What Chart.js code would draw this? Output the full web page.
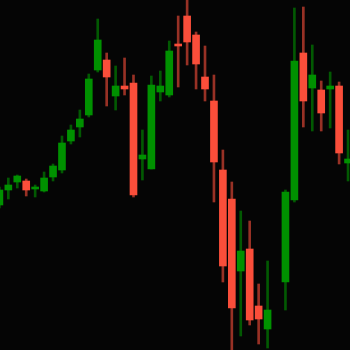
<!DOCTYPE html>
<html>
<head>
<meta charset="utf-8">
<script src="https://cdn.jsdelivr.net/npm/chart.js@4/dist/chart.umd.min.js"></script>
<style>
  html, body { margin: 0; padding: 0; background: #050505; }
  #wrap { width: 350px; height: 350px; position: relative; }
  canvas { display: block; }
</style>
</head>
<body>
<div id="wrap"><canvas id="c" width="350" height="350"></canvas></div>
<script>
// Candle data (index 31 is an empty slot with no candle)
const opens  = [145,160,168,169,161,159,173,180,209,223,235,280,290,254,264,267,191,181,258,255,306,334,315,273,249,180,151, 79,101, 44, 21,null, 68,150,297,262,260,261,264,187];
const highs  = [163,172,175,171,165,178,186,214,225,240,276,331,297,284,292,275,220,274,279,309,334,353,318,304,275,200,168,139,129, 66, 89,null,160,342,343,305,269,278,268,220];
const lows   = [142,151,162,154,153,158,169,177,206,213,233,278,244,240,255,153,170,181,249,253,263,285,261,249,148, 68, -5, 14, 25,  6,  2,null, 40,148,223,219,219,222,186,169];
const closes = [160,165,174,160,162,172,184,207,220,231,271,310,273,264,261,155,195,265,264,299,304,308,286,261,188, 84, 42, 99, 30, 31, 40,null,158,289,249,275,237,264,197,191];

const UP = 'rgb(0,145,0)';
const DOWN = 'rgb(250,78,58)';
const UP_WICK = 'rgba(0,145,0,0.6)';
const DOWN_WICK = 'rgba(250,78,58,0.6)';

const wickData = [], bodyData = [], colors = [], wickColors = [];
opens.forEach((o, i) => {
  if (o === null) return;
  wickData.push({ x: i, y: [lows[i], highs[i]] });
  bodyData.push({ x: i, y: [o, closes[i]] });
  const up = closes[i] >= o;
  colors.push(up ? UP : DOWN);
  wickColors.push(up ? UP_WICK : DOWN_WICK);
});

new Chart(document.getElementById('c'), {
  type: 'bar',
  data: {
    datasets: [
      { data: wickData, backgroundColor: wickColors, barThickness: 2, grouped: false, order: 2, borderWidth: 0, borderSkipped: false },
      { data: bodyData, backgroundColor: colors, barThickness: 7, grouped: false, order: 1, borderWidth: 0, borderSkipped: false, minBarLength: 2 }
    ]
  },
  options: {
    responsive: false,
    animation: false,
    layout: { padding: 0 },
    plugins: { legend: { display: false }, tooltip: { enabled: false } },
    scales: {
      x: { type: 'linear', min: 0.067, max: 39.22, offset: false, display: false },
      y: { min: 0, max: 350, display: false }
    }
  }
});
</script>
</body>
</html>
